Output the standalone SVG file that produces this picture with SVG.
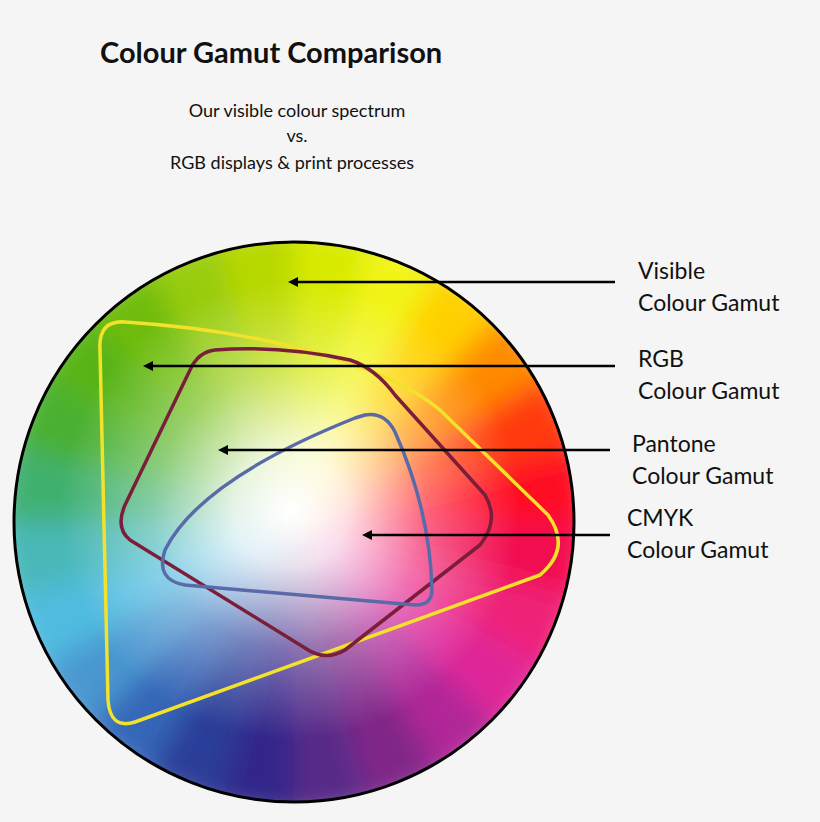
<svg xmlns="http://www.w3.org/2000/svg" width="820" height="822" viewBox="0 0 820 822">
<style>
text{font-family:Lato,"Open Sans",sans-serif;fill:#111}
.t{font-size:29px;font-weight:bold}
.s{font-size:18px;text-anchor:middle}
.l{font-size:23px}
.c{stroke:#000;stroke-width:2.5;marker-end:url(#ah)}
.g{fill:none;stroke-width:3.5;stroke-linejoin:round}
</style>
<defs>
<clipPath id="cc"><circle cx="294" cy="522" r="280"/></clipPath>
<filter id="bl" x="-20%" y="-20%" width="140%" height="140%"><feGaussianBlur stdDeviation="14"/></filter>
<radialGradient id="wg" cx="290" cy="510" r="230" gradientUnits="userSpaceOnUse">
<stop offset="0" stop-color="#fff" stop-opacity="1"/>
<stop offset="0.25" stop-color="#fff" stop-opacity="0.85"/>
<stop offset="0.6" stop-color="#fff" stop-opacity="0.35"/>
<stop offset="1" stop-color="#fff" stop-opacity="0"/>
</radialGradient>
<marker id="ah" viewBox="0 0 10 10" refX="2" refY="5" markerWidth="4" markerHeight="4" orient="auto"><path d="M0,0L10,5L0,10z" fill="#000"/></marker>
</defs>
<rect width="820" height="822" fill="#f5f5f5"/>
<text class="t" x="100" y="63">Colour Gamut Comparison</text>
<text class="s" x="297" y="117">Our visible colour spectrum</text>
<text class="s" x="297" y="142">vs.</text>
<text class="s" x="292" y="169">RGB displays &amp; print processes</text>
<g id="wheel">
<g clip-path="url(#cc)">
<g filter="url(#bl)">
<path d="M294 522L294 222L371.6 232.2Z" fill="#d8ea00"/>
<path d="M294 522L371.6 232.2L444 262.2Z" fill="#f2f418"/>
<path d="M294 522L444 262.2L506.1 309.9Z" fill="#ffd000"/>
<path d="M294 522L506.1 309.9L553.8 372Z" fill="#ff8a00"/>
<path d="M294 522L553.8 372L583.8 444.4Z" fill="#ff3a10"/>
<path d="M294 522L583.8 444.4L594 522Z" fill="#ff0a20"/>
<path d="M294 522L594 522L583.8 599.6Z" fill="#f21050"/>
<path d="M294 522L583.8 599.6L553.8 672Z" fill="#ee2078"/>
<path d="M294 522L553.8 672L506.1 734.1Z" fill="#e02898"/>
<path d="M294 522L506.1 734.1L444 781.8Z" fill="#b02898"/>
<path d="M294 522L444 781.8L371.6 811.8Z" fill="#802888"/>
<path d="M294 522L371.6 811.8L294 822Z" fill="#582a88"/>
<path d="M294 522L294 822L216.4 811.8Z" fill="#30288a"/>
<path d="M294 522L216.4 811.8L144 781.8Z" fill="#2a3c98"/>
<path d="M294 522L144 781.8L81.9 734.1Z" fill="#3466b8"/>
<path d="M294 522L81.9 734.1L34.2 672Z" fill="#4896d0"/>
<path d="M294 522L34.2 672L4.2 599.6Z" fill="#50bce0"/>
<path d="M294 522L4.2 599.6L-6 522Z" fill="#48b8b8"/>
<path d="M294 522L-6 522L4.2 444.4Z" fill="#40b070"/>
<path d="M294 522L4.2 444.4L34.2 372Z" fill="#48b030"/>
<path d="M294 522L34.2 372L81.9 309.9Z" fill="#58b418"/>
<path d="M294 522L81.9 309.9L144 262.2Z" fill="#70bc10"/>
<path d="M294 522L144 262.2L216.4 232.2Z" fill="#98cc08"/>
<path d="M294 522L216.4 232.2L294 222Z" fill="#b8d800"/>
</g>
<circle cx="294" cy="522" r="280" fill="url(#wg)"/>
</g>
<circle cx="294" cy="522" r="280" fill="none" stroke="#000" stroke-width="3"/>
</g>
<g id="visible"><path class="g" stroke="#f2e22a" d="M125 322C250 330 380 360 440 410L548 515Q572 548 540 575L135 722Q110 730 108 700L100 350Q98 320 125 322Z"/>
<text class="l" x="638" y="279">Visible</text><text class="l" x="638" y="311">Colour Gamut</text></g>
<g id="rgb"><path class="g" stroke="#7a1e3a" d="M215 350Q280 345 350 360Q375 368 395 395L485 495Q500 520 480 545L345 650Q325 662 305 648L130 540Q115 528 125 505L190 370Q198 352 215 350Z"/>
<text class="l" x="638" y="367">RGB</text><text class="l" x="638" y="399">Colour Gamut</text></g>
<g id="pantone"><path class="g" stroke="#5a6aa8" d="M365 415Q385 412 395 432Q430 510 432 590Q432 605 415 605L185 585Q155 580 165 550Q200 480 355 418Z"/>
<text class="l" x="632" y="452">Pantone</text><text class="l" x="632" y="484">Colour Gamut</text></g>
<g id="cmyk"><text class="l" x="627" y="526">CMYK</text><text class="l" x="627" y="558">Colour Gamut</text></g>
<g id="connectors">
<line class="c" x1="615" y1="282" x2="296" y2="282"/>
<line class="c" x1="615" y1="366" x2="151" y2="366"/>
<line class="c" x1="610" y1="450" x2="226" y2="450"/>
<line class="c" x1="610" y1="535" x2="370" y2="535"/>
</g>
</svg>
